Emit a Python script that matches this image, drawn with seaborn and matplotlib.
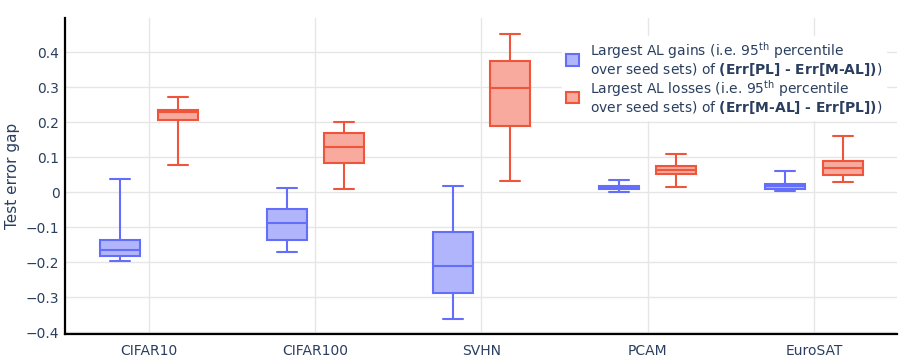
import numpy as np
import pandas as pd
import matplotlib
matplotlib.use("Agg")
import matplotlib.pyplot as plt
from matplotlib.patches import Patch
import seaborn as sns

# ---------------- data (box statistics) ----------------
datasets = ["CIFAR10", "CIFAR100", "SVHN", "PCAM", "EuroSAT"]

gain_low = [-0.195, -0.170, -0.362, 0.001, 0.004]
gain_q1 = [-0.182, -0.137, -0.287, 0.0095, 0.0095]
gain_med = [-0.164, -0.089, -0.210, 0.014, 0.017]
gain_q3 = [-0.137, -0.049, -0.114, 0.019, 0.025]
gain_high = [0.037, 0.013, 0.017, 0.034, 0.062]

loss_low = [0.077, 0.0086, 0.033, 0.014, 0.0295]
loss_q1 = [0.207, 0.084, 0.188, 0.051, 0.0505]
loss_med = [0.229, 0.129, 0.299, 0.063, 0.0695]
loss_q3 = [0.235, 0.170, 0.374, 0.074, 0.0895]
loss_high = [0.272, 0.200, 0.451, 0.109, 0.160]

y_ticks = [-0.4, -0.3, -0.2, -0.1, 0.0, 0.1, 0.2, 0.3, 0.4]
y_tick_labels = ["\u22120.4", "\u22120.3", "\u22120.2", "\u22120.1", "0", "0.1", "0.2", "0.3", "0.4"]

gain_name = "gain"
loss_name = "loss"
gain_label = ("Largest AL gains (i.e. 95$^{\\mathrm{th}}$ percentile\n"
              "over seed sets) of $\\mathbf{(Err[PL]\\ \u2010\\ Err[M\u2010AL])}$)")
loss_label = ("Largest AL losses (i.e. 95$^{\\mathrm{th}}$ percentile\n"
              "over seed sets) of $\\mathbf{(Err[M\u2010AL]\\ \u2010\\ Err[PL])}$)")

# five-point samples whose quartiles / extremes equal the read statistics
rows = []
for name, stats in [(gain_name, (gain_low, gain_q1, gain_med, gain_q3, gain_high)),
                    (loss_name, (loss_low, loss_q1, loss_med, loss_q3, loss_high))]:
    for i, d in enumerate(datasets):
        for s in stats:
            rows.append({"dataset": d, "series": name, "value": s[i]})
df = pd.DataFrame(rows)

# ---------------- style ----------------
sns.set_theme(style="white")
plt.rcParams["font.family"] = ["DejaVu Sans"]
plt.rcParams["mathtext.fontset"] = "dejavusans"
txt = "#2a3f5f"
plt.rcParams.update({"text.color": txt, "axes.labelcolor": txt,
                     "xtick.color": txt, "ytick.color": txt})

blue_line, blue_face = "#636EFA", "#B1B6FC"
red_line, red_face = "#EF553B", "#F7AA9D"

fig = plt.figure(figsize=(9, 3.6), dpi=100)
ax = fig.add_axes([65 / 900, 1 - 334 / 360, (897 - 65) / 900, (334 - 18) / 360])

hue_order = [gain_name, loss_name]
for name, face, line in [(gain_name, blue_face, blue_line), (loss_name, red_face, red_line)]:
    sns.boxplot(data=df[df["series"] == name], x="dataset", y="value",
                order=datasets, hue="series", hue_order=hue_order, dodge=True,
                palette={gain_name: face, loss_name: face}, linecolor=line,
                linewidth=1.5, width=0.69, gap=0.3, whis=(0, 100),
                saturation=1, legend=False, ax=ax)

ax.set_xlim(-0.506, 4.5)
ax.set_ylim(-0.405, 0.498)
ax.set_yticks(y_ticks)
ax.set_yticklabels(y_tick_labels)
ax.set_xlabel("")
ax.set_ylabel("Test error gap", fontsize=11, labelpad=4)
ax.tick_params(axis="both", length=0, labelsize=10)
ax.tick_params(axis="y", pad=4)
ax.tick_params(axis="x", pad=7)

ax.grid(True, color="#e6e6e6", linewidth=1)
ax.set_axisbelow(True)
for s in ["top", "right"]:
    ax.spines[s].set_visible(False)
for s in ["left", "bottom"]:
    ax.spines[s].set_color("black")
    ax.spines[s].set_linewidth(1.6)

handles = [Patch(facecolor=blue_face, edgecolor=blue_line, linewidth=1.5),
           Patch(facecolor=red_face, edgecolor=red_line, linewidth=1.5)]
leg = ax.legend(handles, [gain_label, loss_label], loc="upper left",
                bbox_to_anchor=(562 / 900, 1 - 36 / 360), bbox_transform=fig.transFigure,
                frameon=True, fancybox=False, framealpha=1, edgecolor="white",
                facecolor="white", fontsize=10, handlelength=0.9, handleheight=0.9,
                handletextpad=0.8, labelspacing=0.0, borderpad=0.3, borderaxespad=0)
for t in leg.get_texts():
    t.set_linespacing(1.0)

fig.savefig("out.png", dpi=100)
